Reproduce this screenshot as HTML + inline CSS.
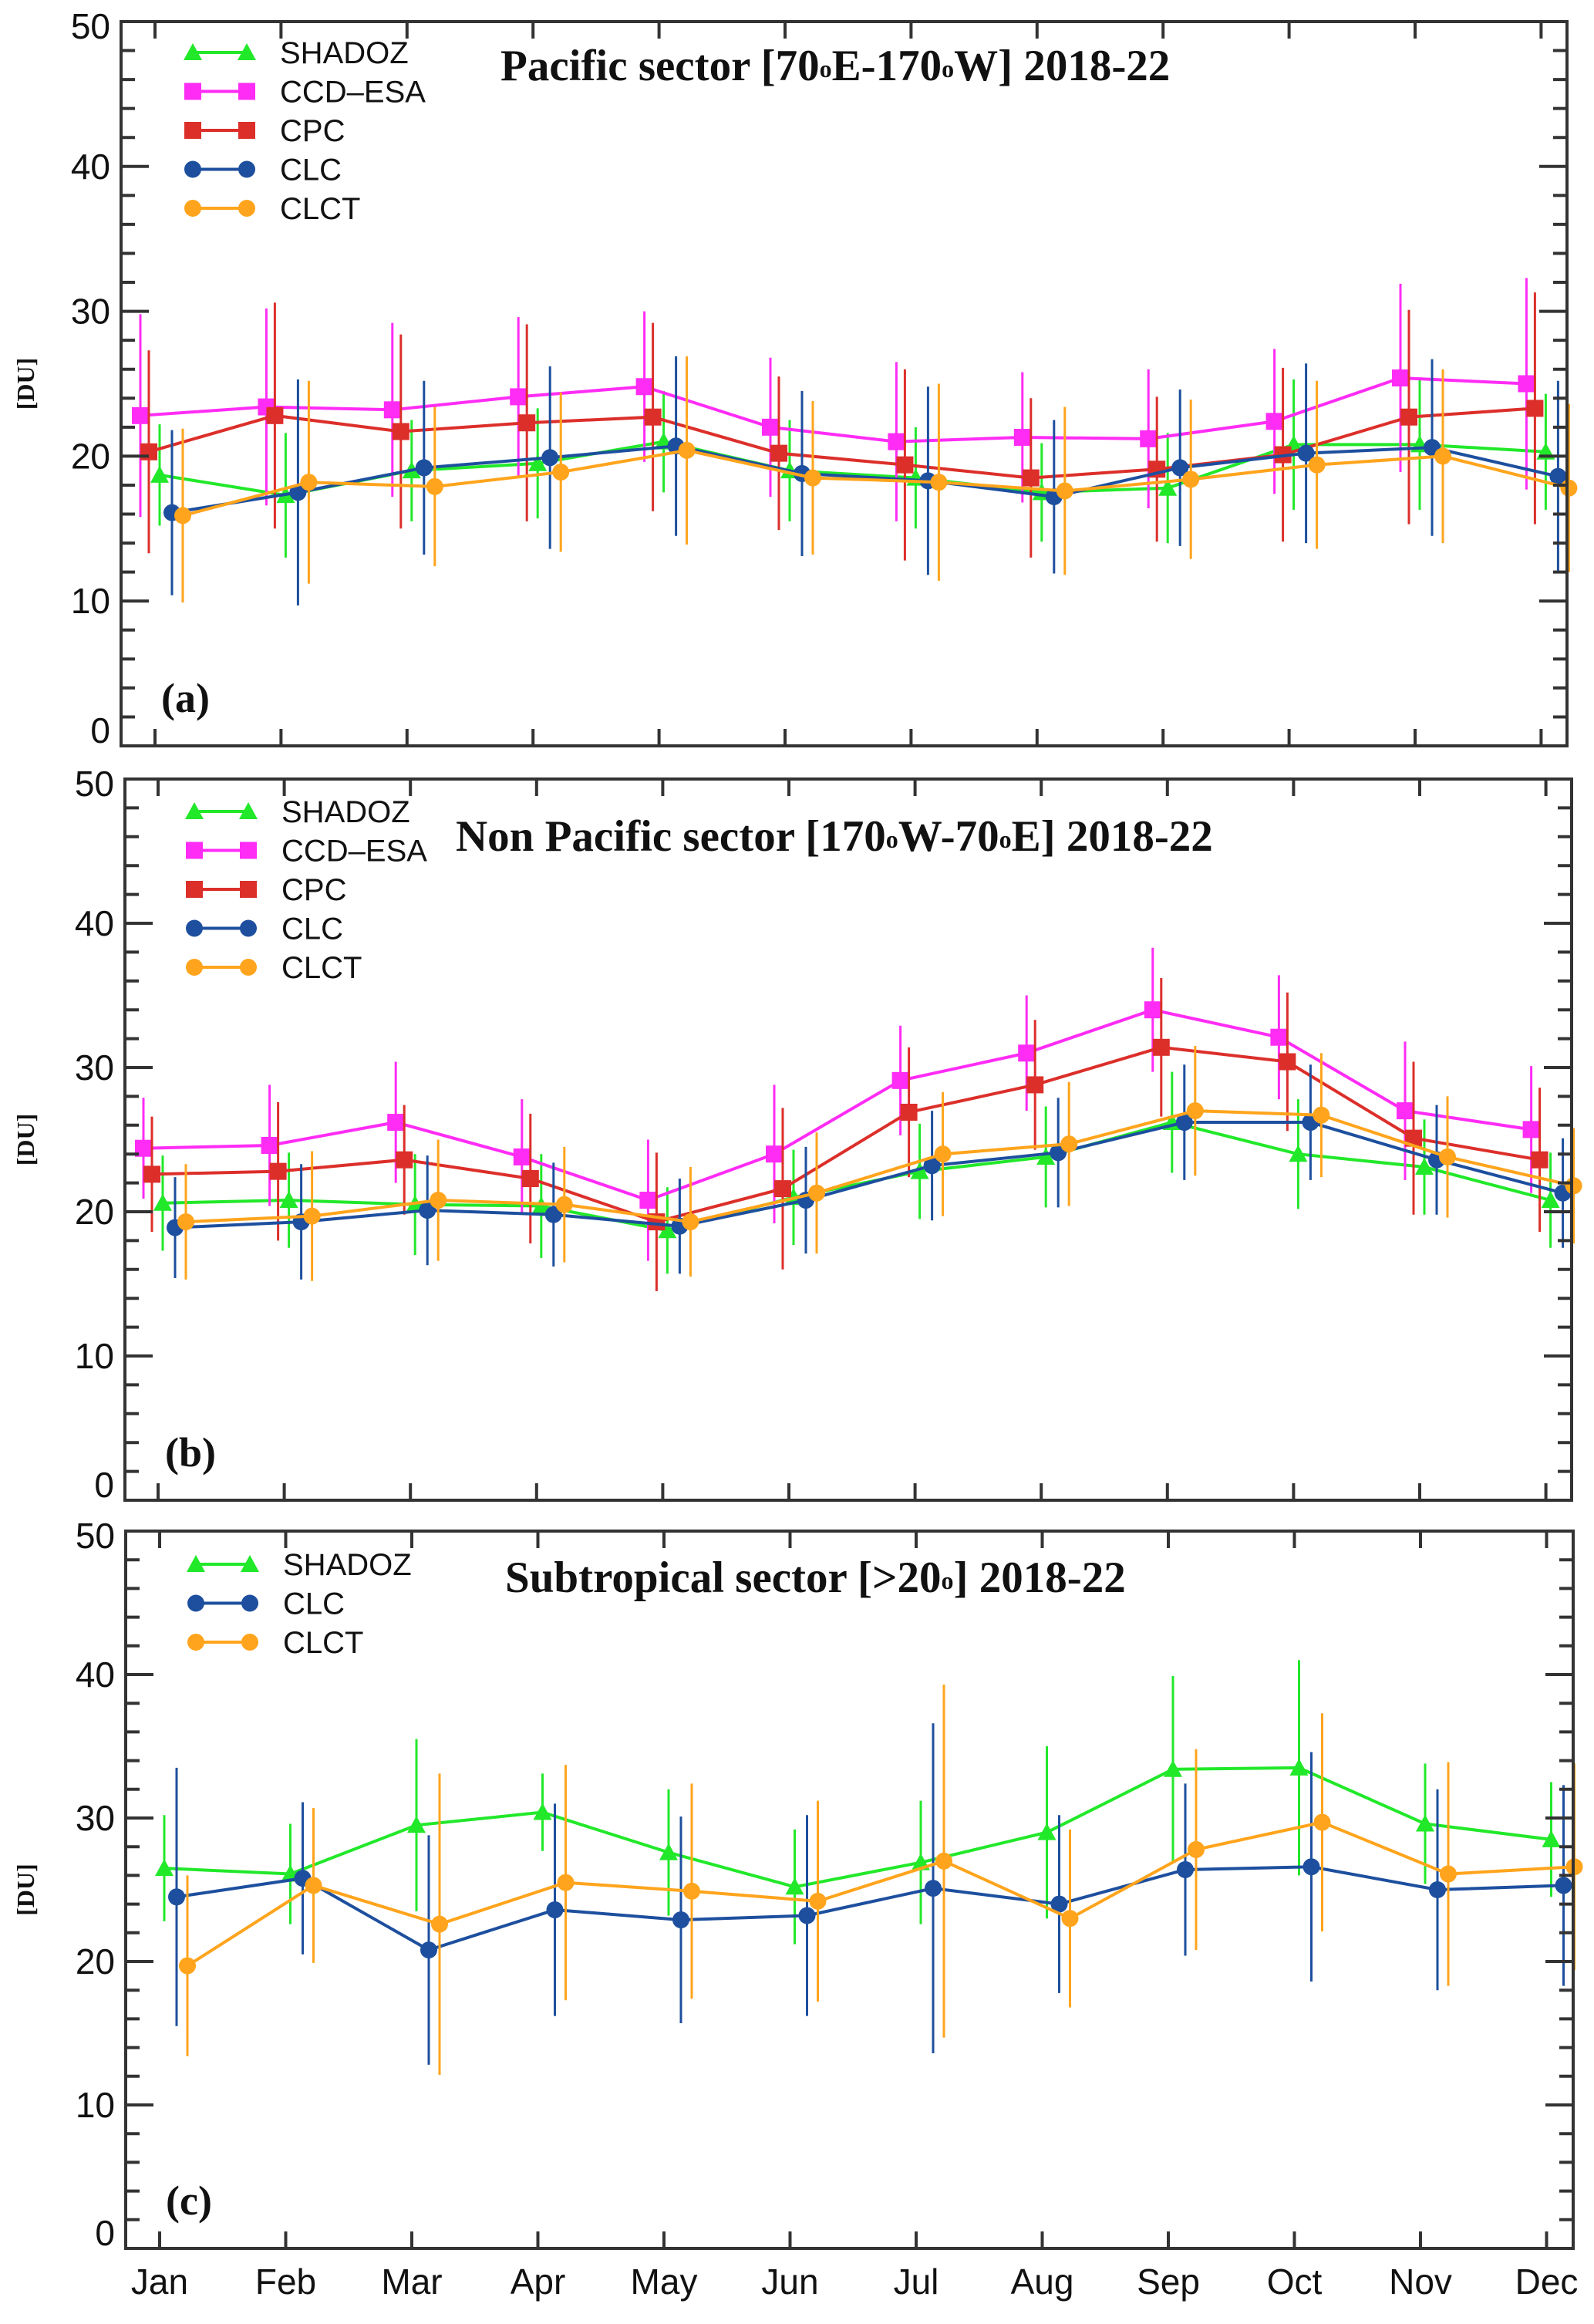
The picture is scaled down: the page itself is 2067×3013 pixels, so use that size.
<!DOCTYPE html>
<html><head><meta charset="utf-8"><style>
html,body{margin:0;padding:0;background:#fff;}
svg{display:block;}
</style></head><body>
<svg id="chart" width="2067" height="3013" viewBox="0 0 2067 3013" xmlns="http://www.w3.org/2000/svg"></svg>
<script>
const months = ["Jan","Feb","Mar","Apr","May","Jun","Jul","Aug","Sep","Oct","Nov","Dec"];
const yTicks = [0,10,20,30,40,50];
// Panel a
const aShadoz = [18.7,17.3,19.0,19.5,21.0,19.0,18.5,17.5,17.8,20.8,20.8,20.3];
const aShadozErr = [3.5,4.3,3.5,3.8,3.5,3.5,3.5,3.4,3.8,4.5,4.5,4.0];
const aCcd = [22.8,23.4,23.2,24.1,24.8,22.0,21.0,21.3,21.2,22.4,25.4,25.0];
const aCcdErr = [7.0,6.8,6.0,5.5,5.2,4.8,5.5,4.5,4.8,5.0,6.5,7.3];
const aCpc = [20.3,22.8,21.7,22.3,22.7,20.2,19.4,18.5,19.1,20.1,22.7,23.3];
const aCpcErr = [7.0,7.8,6.7,6.8,6.5,5.3,6.6,5.5,5.0,6.0,7.4,8.0];
const aClc = [16.1,17.5,19.2,19.9,20.7,18.8,18.3,17.2,19.2,20.2,20.6,18.6];
const aClcErr = [5.7,7.8,6.0,6.3,6.2,5.7,6.5,5.3,5.4,6.2,6.1,6.6];
const aClct = [15.9,18.2,17.9,18.9,20.4,18.5,18.2,17.6,18.4,19.4,20.0,17.8];
const aClctErr = [6.0,7.0,5.5,5.5,6.5,5.3,6.8,5.8,5.5,5.8,6.0,5.8];
// Panel b
const bShadoz = [20.6,20.8,20.5,20.4,18.7,21.0,22.8,23.8,26.2,24.0,23.1,20.8];
const bShadozErr = [3.3,3.3,3.5,3.6,3.0,3.3,3.3,3.5,3.5,3.8,3.3,3.3];
const bCcd = [24.4,24.6,26.2,23.8,20.8,24.0,29.1,31.0,34.0,32.1,27.0,25.7];
const bCcdErr = [3.5,4.2,4.2,4.0,4.2,4.8,3.8,4.0,4.3,4.3,4.8,4.4];
const bCpc = [22.6,22.8,23.6,22.3,19.3,21.6,26.9,28.8,31.4,30.4,25.1,23.6];
const bCpcErr = [4.0,4.8,3.8,4.5,4.8,5.6,4.5,4.5,4.8,4.8,5.3,5.0];
const bClc = [18.9,19.3,20.1,19.8,19.0,20.8,23.2,24.1,26.2,26.2,23.6,21.3];
const bClcErr = [3.5,4.0,3.8,3.6,3.3,3.7,3.8,3.8,4.0,4.0,3.8,3.8];
const bClct = [19.3,19.7,20.8,20.5,19.3,21.3,24.0,24.7,27.0,26.7,23.8,21.8];
const bClctErr = [4.0,4.5,4.2,4.0,3.8,4.2,4.3,4.3,4.5,4.3,4.2,4.0];
// Panel c
const cShadoz = [26.5,26.1,29.5,30.4,27.6,25.2,26.9,29.0,33.4,33.5,29.6,28.5];
const cShadozErr = [3.7,3.5,6.0,2.7,4.4,4.0,4.3,6.0,6.5,7.5,4.2,4.0];
const cClc = [24.5,25.8,20.8,23.6,22.9,23.2,25.1,24.0,26.4,26.6,25.0,25.3];
const cClcErr = [9.0,5.3,8.0,7.4,7.2,7.0,11.5,6.2,6.0,8.0,7.0,7.0];
const cClct = [19.7,25.3,22.6,25.5,24.9,24.2,27.0,23.0,27.8,29.7,26.1,26.6];
const cClctErr = [6.3,5.4,10.5,8.2,7.5,7.0,12.3,6.2,7.0,7.6,7.8,7.2];

const NS = "http://www.w3.org/2000/svg";
const svg = document.getElementById("chart");
function mk(tag, attrs, parent){
  const e = document.createElementNS(NS, tag);
  for (const k in attrs) e.setAttribute(k, attrs[k]);
  (parent||svg).appendChild(e);
  return e;
}
const COL = {shadoz:"#22e82a", ccd:"#ff2cf5", cpc:"#dc2f2a", clc:"#1d4f9e", clct:"#ffa41c"};
const OFF = {ccd:-19, cpc:-8, shadoz:6, clc:22, clct:36};
const MK = {shadoz:"tri", ccd:"sq", cpc:"sq", clc:"circ", clct:"circ"};

function marker(g, type, cx, cy, color, name){
  let m;
  if (type==="tri") m = mk("polygon",{points:`${cx-12},${cy+10} ${cx+12},${cy+10} ${cx},${cy-12}`,fill:color},g);
  else if (type==="sq") m = mk("rect",{x:cx-11,y:cy-11,width:22,height:22,fill:color},g);
  else m = mk("circle",{cx:cx,cy:cy,r:11,fill:color},g);
  
  
}

function panel(p){
  const g = mk("g",{});
  
  
  const L=p.left,R=p.right,T=p.top,B=p.bottom;
  const y = v => B - (v/50)*(B-T);
  const x = i => p.x0 + i*p.step;
  p.series.forEach(s=>{
    const sg = mk("g",{},g);
    
    
    const c = COL[s.key];
    s.vals.forEach((v,i)=>{
      const cx = x(i)+OFF[s.key];
      const eb = mk("line",{x1:cx,x2:cx,y1:y(v-s.err[i]),y2:y(v+s.err[i]),stroke:c,"stroke-width":3},sg);
      
      
    });
    const pts = s.vals.map((v,i)=>`${x(i)+OFF[s.key]},${y(v)}`).join(" ");
    const pl = mk("polyline",{points:pts,fill:"none",stroke:c,"stroke-width":4},sg);
    
    
    s.vals.forEach((v,i)=>marker(sg, MK[s.key], x(i)+OFF[s.key], y(v), c, 'point-'+months[i].toLowerCase()));
  });
  const fr = mk("rect",{x:L,y:T,width:R-L,height:B-T,fill:"none",stroke:"#333","stroke-width":4},g);
  
  
  for (let v=0; v<=50; v+=2){
    const len = v%10===0 ? 36 : 18;
    mk("line",{x1:L,x2:L+len,y1:y(v),y2:y(v),stroke:"#333","stroke-width":4},g);
    mk("line",{x1:R,x2:R-len,y1:y(v),y2:y(v),stroke:"#333","stroke-width":4},g);
  }
  yTicks.forEach(v=>{
    const dy = v===0 ? -4 : (v===50 ? 22 : 16);
    const t = mk("text",{x:L-14,y:y(v)+dy,"text-anchor":"end","font-family":"Liberation Sans, sans-serif","font-size":46,fill:"#111"},g);
    t.textContent = v;
    
    
  });
  months.forEach((m,i)=>{
    mk("line",{x1:x(i),x2:x(i),y1:B,y2:B-22,stroke:"#333","stroke-width":4},g);
    mk("line",{x1:x(i),x2:x(i),y1:T,y2:T+22,stroke:"#333","stroke-width":4},g);
  });
  const yt = mk("text",{x:0,y:0,transform:`translate(44,${(T+B)/2}) rotate(-90)`,"text-anchor":"middle","font-family":"Liberation Serif, serif","font-weight":"bold","font-size":32,fill:"#111"},g);
  yt.textContent = "[DU]";
  
  
  const pl = mk("text",{x:L+52,y:B-44,"font-family":"Liberation Serif, serif","font-weight":"bold","font-size":54,fill:"#111"},g);
  pl.textContent = "("+p.id+")";
  
  
  const tt = mk("text",{x:p.titleX,y:p.titleY,"font-family":"Liberation Serif, serif","font-weight":"bold","font-size":57,fill:"#111"},g);
  tt.innerHTML = p.title;
  
  
  const lg = mk("g",{},g);
  
  
  p.series.forEach((s,k)=>{
    const ly = p.legY + k*50.5;
    const c = COL[s.key];
    const e = mk("g",{},lg);
    
    
    mk("line",{x1:p.legX,x2:p.legX+70,y1:ly,y2:ly,stroke:c,"stroke-width":4},e);
    marker(e, MK[s.key], p.legX, ly, c, 'legend-marker');
    marker(e, MK[s.key], p.legX+70, ly, c, 'legend-marker');
    const lt = mk("text",{x:p.legX+113,y:ly+14,"font-family":"Liberation Sans, sans-serif","font-size":40,fill:"#111"},e);
    lt.textContent = s.label;
    
    
  });
  return {x};
}
const sup = s => `<tspan font-size="32" dy="-4">${s}</tspan><tspan dy="4">`;
panel({id:"a",left:157,right:2032,top:28,bottom:967,x0:201,step:163.4,
  title:`Pacific sector [70${sup("o")}E-170${sup("o")}W] 2018-22</tspan></tspan>`,titleX:649,titleY:104,
  legX:250,legY:68,
  series:[{key:"shadoz",label:"SHADOZ",vals:aShadoz,err:aShadozErr},{key:"ccd",label:"CCD\u2013ESA",vals:aCcd,err:aCcdErr},
  {key:"cpc",label:"CPC",vals:aCpc,err:aCpcErr},{key:"clc",label:"CLC",vals:aClc,err:aClcErr},{key:"clct",label:"CLCT",vals:aClct,err:aClctErr}]});
panel({id:"b",left:162,right:2038,top:1010,bottom:1945,x0:205,step:163.6,
  title:`Non Pacific sector [170${sup("o")}W-70${sup("o")}E] 2018-22</tspan></tspan>`,titleX:591,titleY:1103,
  legX:252,legY:1052,
  series:[{key:"shadoz",label:"SHADOZ",vals:bShadoz,err:bShadozErr},{key:"ccd",label:"CCD\u2013ESA",vals:bCcd,err:bCcdErr},
  {key:"cpc",label:"CPC",vals:bCpc,err:bCpcErr},{key:"clc",label:"CLC",vals:bClc,err:bClcErr},{key:"clct",label:"CLCT",vals:bClct,err:bClctErr}]});
const pc = panel({id:"c",left:163,right:2040,top:1985,bottom:2915,x0:207,step:163.5,
  title:`Subtropical sector [&gt;20${sup("o")}] 2018-22</tspan>`,titleX:655,titleY:2064,
  legX:254,legY:2028,
  series:[{key:"shadoz",label:"SHADOZ",vals:cShadoz,err:cShadozErr},{key:"clc",label:"CLC",vals:cClc,err:cClcErr},{key:"clct",label:"CLCT",vals:cClct,err:cClctErr}]});
months.forEach((m,i)=>{
  const t = mk("text",{x:pc.x(i),y:2974,"text-anchor":"middle","font-family":"Liberation Sans, sans-serif","font-size":46,fill:"#111"});
  t.textContent = m;
  
  
});
</script>
</body></html>
